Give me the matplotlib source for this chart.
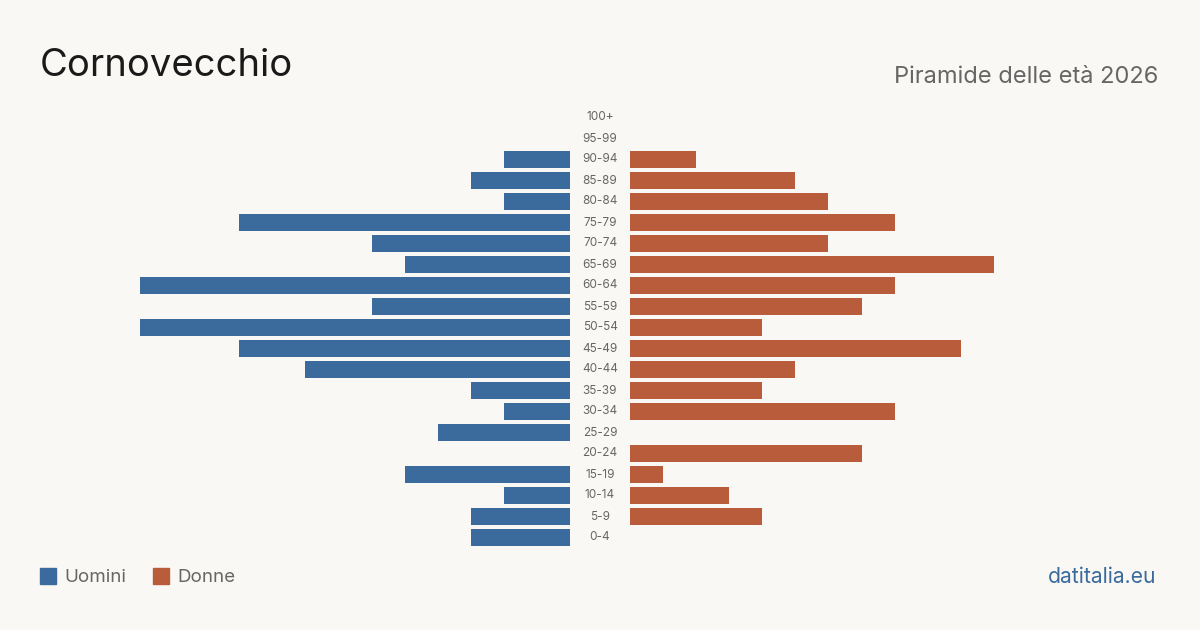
import matplotlib.pyplot as plt
from matplotlib.patches import Rectangle

plt.rcParams['font.family'] = ['Inter', 'DejaVu Sans']

# Age groups, top to bottom
ages = ["100+", "95-99", "90-94", "85-89", "80-84", "75-79", "70-74", "65-69",
        "60-64", "55-59", "50-54", "45-49", "40-44", "35-39", "30-34", "25-29",
        "20-24", "15-19", "10-14", "5-9", "0-4"]
uomini = [0, 0, 2, 3, 2, 10, 6, 5, 13, 6, 13, 10, 8, 3, 2, 4, 0, 5, 2, 3, 3]
donne = [0, 0, 2, 5, 6, 8, 6, 11, 8, 7, 4, 10, 5, 4, 8, 0, 7, 1, 3, 4, 0]

BG = "#f9f8f4"
BLUE = "#3a6b9c"
RED = "#b95c3c"

W, H = 1200, 630
fig = plt.figure(figsize=(12, 6.3), dpi=100, facecolor=BG)

# rows: 100+ centered at y=117, 0-4 at y=537 (pixels from top)
n = len(ages)
top = 117.5 - 10.5
bottom = 537.5 + 10.5
scale_max = 13

axl = fig.add_axes([140 / W, 1 - bottom / H, 430 / W, (bottom - top) / H])
axr = fig.add_axes([630 / W, 1 - bottom / H, 430 / W, (bottom - top) / H])
ys = list(range(n))
axl.barh(ys, uomini, height=0.8, color=BLUE)
axr.barh(ys, donne, height=0.8, color=RED)
axl.set_xlim(scale_max, 0)
axr.set_xlim(0, scale_max)
for ax in (axl, axr):
    ax.set_ylim(n - 0.5, -0.5)
    ax.axis("off")
    ax.set_facecolor("none")

for i, a in enumerate(ages):
    y = 117.5 + i * 21
    fig.text(600 / W, 1 - y / H, a, ha="center", va="center",
             fontsize=8.5, color="#666666")

fig.text(40 / W, 1 - 66 / H, "Cornovecchio", fontsize=27.5, color="#1a1a1a",
         ha="left", va="center")
fig.text(1158 / W, 1 - 77 / H, "Piramide delle età 2026", fontsize=17,
         color="#666666", ha="right", va="center")

# legend
fig.patches.append(Rectangle((40 / W, 1 - 584 / H), 16 / W, 16 / H,
                             transform=fig.transFigure, color=BLUE))
fig.text(64 / W, 1 - 577 / H, "Uomini", fontsize=13.5, color="#666666",
         ha="left", va="center")
fig.patches.append(Rectangle((153 / W, 1 - 584 / H), 16 / W, 16 / H,
                             transform=fig.transFigure, color=RED))
fig.text(177 / W, 1 - 577 / H, "Donne", fontsize=13.5, color="#666666",
         ha="left", va="center")

fig.text(1156 / W, 1 - 577 / H, "datitalia.eu", fontsize=15.2, color=BLUE,
         ha="right", va="center")

fig.savefig("out.png", dpi=100, facecolor=BG)
